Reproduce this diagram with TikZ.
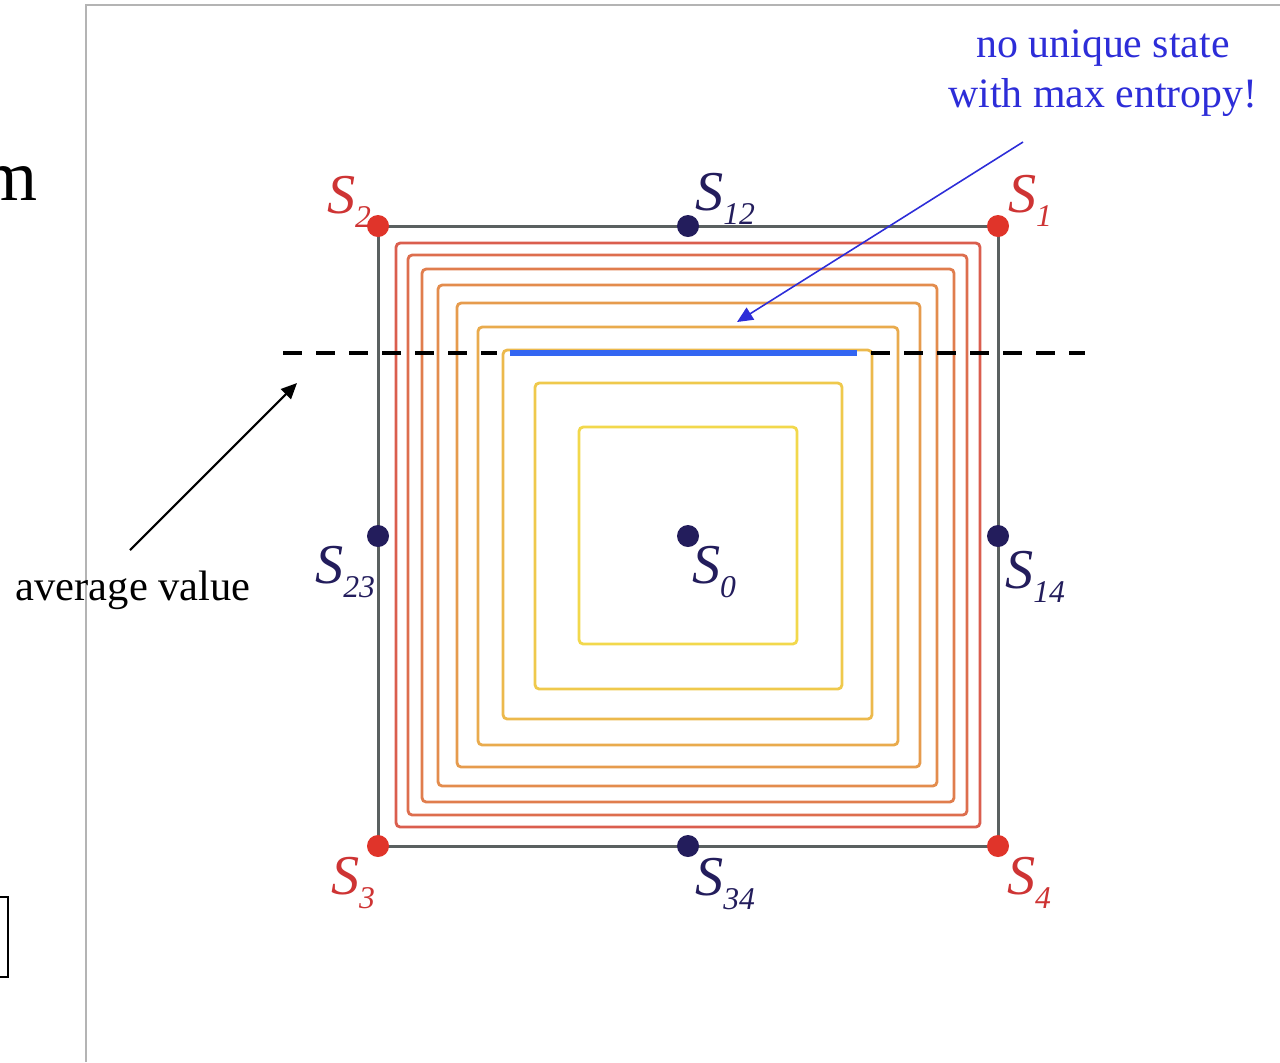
\documentclass[tikz,border=0pt]{standalone}
\usepackage{fontspec}
\setmainfont{Liberation Serif}
\usepackage{xcolor}
\usepackage{tikz}
\usetikzlibrary{arrows.meta, positioning, calc}
\definecolor{rojo}{HTML}{E0342A}
\definecolor{rojotexto}{HTML}{CE3434}
\definecolor{marino}{HTML}{231D5C}
\definecolor{grisoscuro}{HTML}{5A6060}
\definecolor{rojizo}{HTML}{DA5E4E}
\definecolor{amarillo}{HTML}{F2D84C}
\definecolor{azul}{HTML}{2D2DD8}
\definecolor{azulclaro}{HTML}{3366F2}
\definecolor{marco}{HTML}{B4B4B4}
\newcommand\indice[1]{\raisebox{-0.26em}{\fontsize{9}{9}\selectfont #1}}
\tikzset{
  every picture/.style={>=Triangle},
  esquina/.style={circle, fill=rojo, inner sep=0pt, minimum size=0.22cm},
  medio/.style={circle, fill=marino, inner sep=0pt, minimum size=0.22cm},
  etiqr/.style={text=rojotexto, inner sep=0pt, font=\fontsize{16}{18}\selectfont\itshape},
  etiqm/.style={text=marino, inner sep=0pt, font=\fontsize{16}{18}\selectfont\itshape},
  contorno/.style={line width=0.8pt, rounded corners=1.2pt},
  flecha/.style={-{Triangle[length=4.5pt, width=4pt]}, line width=0.6pt, black},
  flechaz/.style={-{Triangle[length=4.5pt, width=4pt]}, line width=0.45pt, azul},
  corte/.style={dashed, dash pattern=on 5.4pt off 4pt, line width=1.4pt, black},
}

\begin{document}
\begin{tikzpicture}[x=0.01cm, y=-0.01cm]
  \useasboundingbox (0,0) rectangle (1280,1062);
  % marco de la diapositiva
  \draw[marco, line width=0.6pt] (86,1062) -- (86,5) -- (1280,5);
  \node[anchor=base east, inner sep=0pt, font=\fontsize{20.5}{24}\selectfont] (letra) at (38,200) {m};
  \draw[line width=0.6pt] (-30,897) -- (8,897) -- (8,977) -- (-30,977);

  % curvas de nivel
  \foreach \l/\t/\r/\b [count=\i] in {396/243/980/827, 408/255/967/815, 422/269/954/802,
      438/285/937/786, 457/303/920/767, 478/327/898/745, 503/350/872/719,
      535/383/842/689, 579/427/797/644}{
    \pgfmathtruncatemacro\p{100-(\i-1)*12.5}
    \draw[contorno, draw=rojizo!\p!amarillo] (\l,\t) rectangle (\r,\b);
  }

  % cuadrado de estados
  \draw[grisoscuro, line width=0.85pt] (378,226) rectangle (998,846);
  \node[esquina] (s1) at (998,226) {};
  \node[esquina] (s2) at (378,226) {};
  \node[esquina] (s3) at (378,846) {};
  \node[esquina] (s4) at (998,846) {};
  \node[medio] (s12) at (688,226) {};
  \node[medio] (s23) at (378,536) {};
  \node[medio] (s14) at (998,536) {};
  \node[medio] (s34) at (688,846) {};
  \node[medio] (s0) at (688,536) {};

  \node[etiqr] (l2) at (349,202) {S\indice{2}};
  \node[etiqm] (l12) at (725,199) {S\indice{12}};
  \node[etiqr] (l1) at (1030,201) {S\indice{1}};
  \node[etiqm] (l23) at (345,572) {S\indice{23}};
  \node[etiqm] (l0) at (714,572) {S\indice{0}};
  \node[etiqm] (l14) at (1035,577) {S\indice{14}};
  \node[etiqr] (l3) at (353,883) {S\indice{3}};
  \node[etiqm] (l34) at (725,884) {S\indice{34}};
  \node[etiqr] (l4) at (1029,883) {S\indice{4}};

  % valor medio
  \coordinate (izq) at (283,353);
  \coordinate (izqfin) at (497,353);
  \coordinate (derini) at (871,353);
  \coordinate (der) at (1085,353);
  \draw[corte] (izq) -- (izqfin);
  \draw[corte] (derini) -- (der);
  \coordinate (maxa) at (510,353);
  \coordinate (maxb) at (857,353);
  \draw[azulclaro, line width=1.7pt] (maxa) -- (maxb);

  \node[anchor=base, align=center, text=azul, inner sep=0pt,
        font=\fontsize{11.9}{14.2}\selectfont] (nota) at (1103,107) {no unique state\\with max entropy!};
  \coordinate (inicioA) at (1023,142);
  \coordinate (puntaA) at (737,322);
  \draw[flechaz] (inicioA) -- (puntaA);

  \node[anchor=base west, inner sep=0pt, font=\fontsize{12.1}{14}\selectfont] (promedio) at (15,600) {average value};
  \coordinate (inicioB) at (130,550);
  \coordinate (puntaB) at (297,383);
  \draw[flecha] (inicioB) -- (puntaB);
\end{tikzpicture}
\end{document}
